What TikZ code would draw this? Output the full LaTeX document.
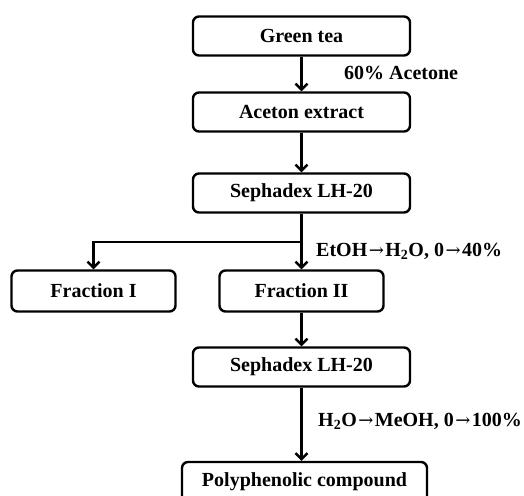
\documentclass[tikz,border=0pt]{standalone}
\usepackage{fontspec}
\setmainfont{Liberation Serif}
\newfontfamily\arrowfont{DejaVu Serif}
\newcommand{\toarrow}{\hspace{1.5pt}{\arrowfont\mdseries\fontsize{18}{18}\selectfont →}\hspace{1.5pt}}
\usetikzlibrary{arrows.meta}

\begin{document}
\begin{tikzpicture}[x=1pt, y=-1pt, line width=2.4pt,
    % 样式定义
    stepbox/.style={draw, rounded corners=6pt, minimum width=217pt, minimum height=39pt,
        font=\fontsize{20}{24}\selectfont\bfseries, inner sep=0pt},
    fracbox/.style={stepbox, minimum width=164pt, minimum height=41pt},
    cond/.style={anchor=west, font=\fontsize{20}{24}\selectfont\bfseries, inner sep=0pt},
    flow/.style={-{Straight Barb[length=6pt, width=12pt, line width=2.4pt]}}
]
    \clip (0,0) rectangle (524,495);
    \useasboundingbox (0,0) rectangle (524,495);

    % ▼▼▼【坐标区】▼▼▼
    \coordinate (p_green)  at (301.5, 36);
    \coordinate (p_aceton) at (301.5, 112);
    \coordinate (p_seph1)  at (301.5, 193);
    \coordinate (p_frac1)  at (93.5,  291);
    \coordinate (p_frac2)  at (301.5, 291);
    \coordinate (p_seph2)  at (301.5, 367);
    \coordinate (p_poly)   at (304.5, 482);

    % ▼▼▼【方框区】▼▼▼
    \node[stepbox] (green)  at (p_green)  {Green tea};
    \node[stepbox] (aceton) at (p_aceton) {Aceton extract};
    \node[stepbox] (seph1)  at (p_seph1)  {Sephadex LH-20};
    \node[fracbox] (frac1)  at (p_frac1)  {Fraction I};
    \node[fracbox] (frac2)  at (p_frac2)  {Fraction II};
    \node[stepbox] (seph2)  at (p_seph2)  {Sephadex LH-20};
    \node[stepbox, minimum width=245pt, minimum height=40pt] (poly) at (p_poly) {Polyphenolic compound};

    % ▼▼▼【条件文字】▼▼▼
    \node[cond] (acetone) at (343, 73)  {60\% Acetone};
    \node[cond] (etoh)    at (315, 251) {EtOH\toarrow H\textsubscript{2}O, 0\toarrow 40\%};
    \node[cond] (meoh)    at (317, 421) {H\textsubscript{2}O\toarrow MeOH, 0\toarrow 100\%};

    % ▼▼▼【连线区】▼▼▼
    \draw[flow] (green) -- (aceton);
    \draw[flow] (aceton) -- (seph1);

    % 分叉点
    \coordinate (split) at (301.5, 242);
    \draw[flow] (seph1) -- (frac2);
    \draw[flow] (split) -| (frac1.north);

    \draw[flow] (frac2) -- (seph2);
    \draw[flow] (seph2) -- (seph2.south |- poly.north);

\end{tikzpicture}
\end{document}
